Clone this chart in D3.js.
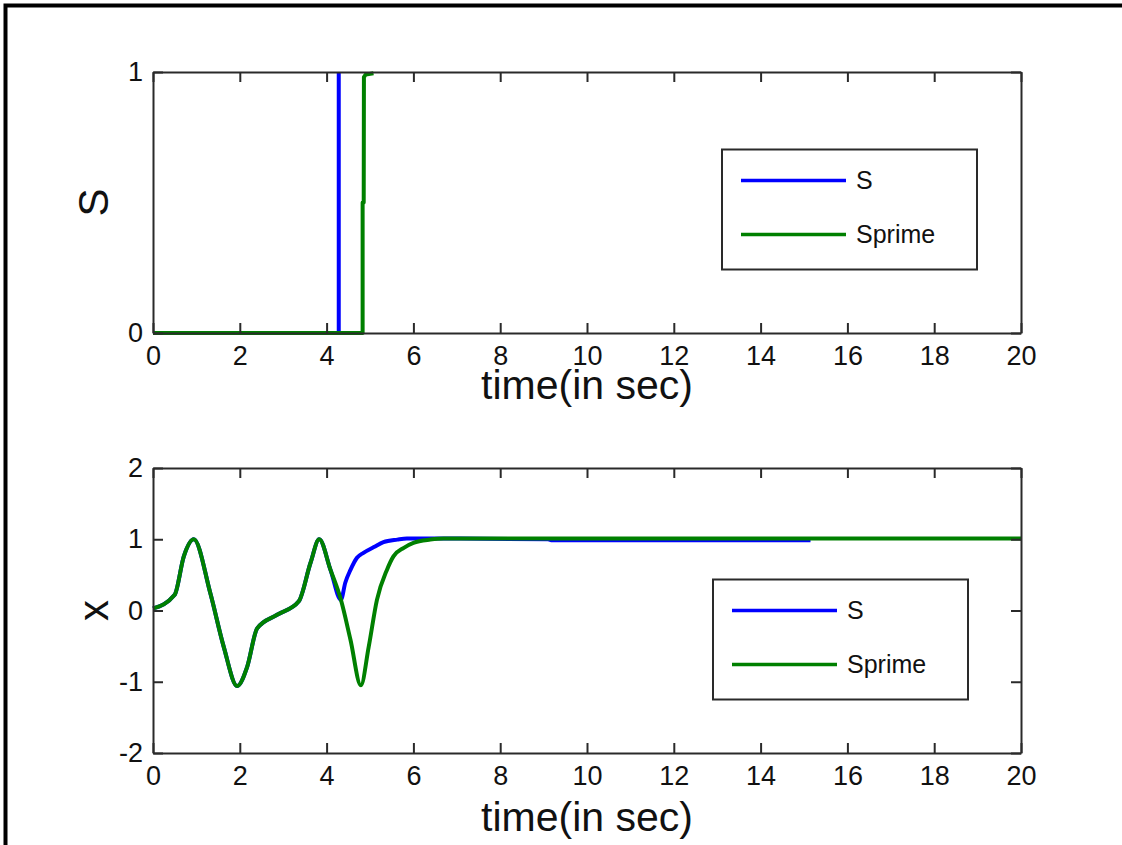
<!DOCTYPE html>
<html>
<head>
<meta charset="utf-8">
<script src="https://cdn.jsdelivr.net/npm/d3@7"></script>
<style>
  html, body { margin: 0; background: #fff; overflow: hidden; }
  svg { display: block; }
  text { font-family: "Liberation Sans", Arial, sans-serif; fill: #111; }
</style>
</head>
<body>
<script>
// top panel: switching signal
var sTimeTop = [0, 4.28, 4.28];
var sValTop = [0, 0, 1];
var spTimeTop = [0, 4.83, 4.83, 4.855, 4.86, 4.9, 5.08];
var spValTop = [0, 0, 0.5, 0.5, 0.98, 0.99, 0.995];

// bottom panel: state x
var sTime = [0, 0.5, 0.71, 0.94, 1.32, 1.63, 1.94, 2.17, 2.4, 2.86, 3.36, 3.63, 3.83, 4.09, 4.33,
    4.43, 4.55, 4.70, 4.85, 5.09, 5.31, 5.63, 5.85, 6.6, 9.1, 9.2, 15.15];
var sVal = [0.03, 0.22, 0.76, 1.0, 0.245, -0.51, -1.06, -0.79, -0.25, -0.06, 0.13, 0.67, 1.0, 0.57, 0.15,
    0.39, 0.57, 0.74, 0.81, 0.89, 0.96, 0.995, 1.01, 1.01, 1.0, 0.985, 0.985];
var spTime = [0, 0.5, 0.71, 0.94, 1.32, 1.63, 1.94, 2.17, 2.4, 2.86, 3.36, 3.63, 3.83, 4.09, 4.33,
    4.55, 4.79, 4.97, 5.16, 5.39, 5.54, 5.78, 6.0, 6.39, 6.7, 20];
var spVal = [0.03, 0.22, 0.76, 1.0, 0.245, -0.51, -1.06, -0.79, -0.25, -0.06, 0.13, 0.67, 1.0, 0.57, 0.15,
    -0.41, -1.05, -0.51, 0.15, 0.57, 0.76, 0.88, 0.95, 0.995, 1.01, 1.01];

var xTicks = [0, 2, 4, 6, 8, 10, 12, 14, 16, 18, 20];
var yTicksTop = [0, 1];
var yTicksBottom = [-2, -1, 0, 1, 2];
var legendNames = ["S", "Sprime"];
var colors = ["#0000ff", "#008000"];

var W = 1122, H = 845;
var left = 153, right = 1021;

var svg = d3.select("body").append("svg")
    .attr("width", W)
    .attr("height", H);

svg.append("rect").attr("width", W).attr("height", H).attr("fill", "#fff");

// outer figure border (only top and left show, the rest is cut off)
svg.append("path")
    .attr("d", `M5.5,${H} L5.5,5.5 L${W},5.5`)
    .attr("fill", "none")
    .attr("stroke", "#000")
    .attr("stroke-width", 4);

var x = d3.scaleLinear().domain([0, 20]).range([left, right]);

function zip(ts, vs) {
    return ts.map((t, i) => [t, vs[i]]);
}

function drawPanel(p) {
    var y = d3.scaleLinear().domain(p.yDomain).range([p.bottom, p.top]);
    var g = svg.append("g");

    var line = d3.line()
        .x(d => x(d[0]))
        .y(d => y(d[1]))
        .curve(p.curve);

    p.series.forEach((s, i) => {
        g.append("path")
            .datum(s)
            .attr("fill", "none")
            .attr("stroke", colors[i])
            .attr("stroke-width", 4)
            .attr("stroke-linejoin", "round")
            .attr("d", line);
    });

    var fmt = d => String(d);
    var axes = [
        [d3.axisBottom(x).tickValues(xTicks), `translate(0,${p.bottom})`, true, 13],
        [d3.axisTop(x).tickValues(xTicks), `translate(0,${p.top})`, false, 11],
        [d3.axisLeft(y).tickValues(p.yTicks), `translate(${left},0)`, true, 10],
        [d3.axisRight(y).tickValues(p.yTicks), `translate(${right},0)`, false, 11]
    ];
    axes.forEach(a => {
        var ag = g.append("g")
            .attr("transform", a[1])
            .call(a[0].tickFormat(fmt).tickSizeInner(-10).tickSizeOuter(0).tickPadding(a[3]));
        ag.select(".domain").attr("stroke", "#2a2a2a").attr("stroke-width", 2);
        ag.selectAll(".tick line").attr("stroke", "#2a2a2a").attr("stroke-width", 2);
        ag.selectAll("text")
            .style("font-size", "27px")
            .attr("fill", "#111");
        if (!a[2]) ag.selectAll("text").remove();
    });

    g.append("text")
        .attr("x", (left + right) / 2)
        .attr("y", p.xLabelY)
        .attr("text-anchor", "middle")
        .style("font-size", "41px")
        .text("time(in sec)");

    g.append("text")
        .attr("transform", `translate(93,${(p.top + p.bottom) / 2}) rotate(-90)`)
        .attr("text-anchor", "middle")
        .attr("dy", "0.35em")
        .style("font-size", "42px")
        .text(p.yLabel);

    // legend
    var lg = g.append("g").attr("transform", `translate(${p.legend[0]},${p.legend[1]})`);
    lg.append("rect")
        .attr("width", 255)
        .attr("height", 120)
        .attr("fill", "#fff")
        .attr("stroke", "#2a2a2a")
        .attr("stroke-width", 2);
    legendNames.forEach((n, i) => {
        var ly = 31 + i * 54;
        lg.append("line")
            .attr("x1", 19).attr("x2", 124)
            .attr("y1", ly).attr("y2", ly)
            .attr("stroke", colors[i])
            .attr("stroke-width", 3.5);
        lg.append("text")
            .attr("x", 134)
            .attr("y", ly)
            .attr("dy", "0.35em")
            .style("font-size", "25px")
            .text(n);
    });
}

drawPanel({
    top: 72, bottom: 333,
    yDomain: [0, 1], yTicks: yTicksTop, yLabel: "S",
    series: [zip(sTimeTop, sValTop), zip(spTimeTop, spValTop)],
    curve: d3.curveLinear,
    xLabelY: 399,
    legend: [722, 149.5]
});

drawPanel({
    top: 468, bottom: 753,
    yDomain: [-2, 2], yTicks: yTicksBottom, yLabel: "x",
    series: [zip(sTime, sVal), zip(spTime, spVal)],
    curve: d3.curveMonotoneX,
    xLabelY: 831,
    legend: [713, 579.5]
});
</script>
</body>
</html>
